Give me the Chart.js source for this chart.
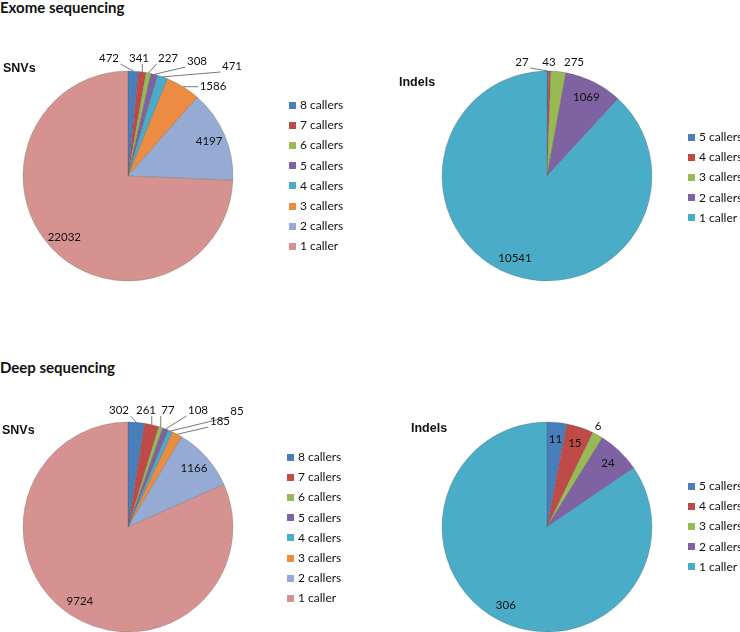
<!DOCTYPE html>
<html>
<head>
<meta charset="utf-8">
<script src="https://cdn.jsdelivr.net/npm/chart.js@4"></script>
<style>
  html, body { margin: 0; padding: 0; background: #fff; }
  body { width: 740px; height: 632px; position: relative; overflow: hidden; font-family: Lato, 'Open Sans', sans-serif; color: #111; }
  .quad { position: absolute; width: 370px; height: 316px; }
  .heading { position: absolute; font-weight: bold; font-size: 15px; white-space: nowrap; line-height: 1; }
  .subtitle { position: absolute; font-family: 'Liberation Sans', Arial, sans-serif; font-weight: bold; font-size: 12.5px; line-height: 1; }
  .legend { position: absolute; font-size: 12px; white-space: nowrap; }
  .legend-row { position: absolute; left: 0; height: 14px; line-height: 14px; }
  .legend-box { position: absolute; left: 0; top: 3.5px; width: 7px; height: 7px; }
  .legend-text { position: absolute; left: 11px; top: 0; }
</style>
</head>
<body>

<div class="heading" style="left:0px; top:0px;">Exome sequencing</div>
<div class="heading" style="left:0px; top:360px;">Deep sequencing</div>

<div class="quad" style="left:0; top:0;"><canvas id="exomeSnvChart" width="370" height="316"></canvas></div>
<div class="quad" style="left:370px; top:0;"><canvas id="exomeIndelChart" width="370" height="316"></canvas></div>
<div class="quad" style="left:0; top:316px;"><canvas id="deepSnvChart" width="370" height="316"></canvas></div>
<div class="quad" style="left:370px; top:316px;"><canvas id="deepIndelChart" width="370" height="316"></canvas></div>

<div class="subtitle" style="left:3px; top:62px;">SNVs</div>
<div class="subtitle" style="left:399px; top:76px;">Indels</div>
<div class="subtitle" style="left:2px; top:424px;">SNVs</div>
<div class="subtitle" style="left:411px; top:422px;">Indels</div>

<div class="legend" id="exomeSnvLegend"   style="left:289px; top:98px;"></div>
<div class="legend" id="exomeIndelLegend" style="left:688px; top:130px;"></div>
<div class="legend" id="deepSnvLegend"    style="left:287px; top:450px;"></div>
<div class="legend" id="deepIndelLegend"  style="left:688px; top:479px;"></div>

<script>
/* ── Data ── */
const snvLabels   = ['8 callers', '7 callers', '6 callers', '5 callers', '4 callers', '3 callers', '2 callers', '1 caller'];
const indelLabels = ['5 callers', '4 callers', '3 callers', '2 callers', '1 caller'];

const exomeSnvValues   = [472, 341, 227, 308, 471, 1586, 4197, 22032];
const exomeIndelValues = [27, 43, 275, 1069, 10541];
const deepSnvValues    = [302, 261, 77, 108, 85, 185, 1166, 9724];
const deepIndelValues  = [11, 15, 6, 24, 306];

/* ── Styles ── */
const snvColors   = ['#4A7EBB', '#BE4B48', '#98B954', '#7E62A1', '#4AACC6', '#EC8C42', '#95ABD4', '#D59290'];
const indelColors = ['#4A7EBB', '#BE4B48', '#98B954', '#7E62A1', '#4AACC6'];

// label placement: null = inside the slice, [dx, dy] = outside, relative to pie centre
const exomeSnvLabelPos   = [[-19, -118], [11, -118], [40, -118], [69, -115], [104, -110], [85, -90], null, null];
const exomeIndelLabelPos = [[-25, -114], [2, -114], [27, -114], null, null];
const deepSnvLabelPos    = [[-9, -117], [18, -117], [40, -117], [70, -117], [109, -116], [92, -106], null, null];
const deepIndelLabelPos  = [null, null, [51, -101], null, null];

const PIE_RADIUS = 105;
const LABEL_FONT = "11.5px Lato, 'Open Sans', sans-serif";

/* ── Plugin: data labels with leader lines ── */
const sliceLabels = {
  id: 'sliceLabels',
  afterDatasetsDraw(chart, args, opts) {
    const ctx  = chart.ctx;
    const meta = chart.getDatasetMeta(0);
    const values = chart.data.datasets[0].data;
    ctx.save();
    ctx.font = LABEL_FONT;
    ctx.fillStyle = '#111';
    ctx.textAlign = 'center';
    ctx.textBaseline = 'middle';
    meta.data.forEach((arc, i) => {
      const { x, y, startAngle, endAngle, outerRadius } = arc.getProps(['x', 'y', 'startAngle', 'endAngle', 'outerRadius'], true);
      const mid  = (startAngle + endAngle) / 2;
      const text = String(values[i]);
      const pos  = opts.positions[i];
      if (!pos) {
        const r = outerRadius * 0.84;
        ctx.fillText(text, x + Math.cos(mid) * r, y + Math.sin(mid) * r);
        return;
      }
      const lx = x + pos[0];
      const ly = y + pos[1];
      ctx.fillText(text, lx, ly);
      // leader line from slice edge to nearest point of the label box
      const w  = ctx.measureText(text).width / 2 + 1.5;
      const h  = 6;
      const ex = x + Math.cos(mid) * outerRadius;
      const ey = y + Math.sin(mid) * outerRadius;
      const nx = Math.min(Math.max(ex, lx - w), lx + w);
      const ny = Math.min(Math.max(ey, ly - h), ly + h);
      if (Math.hypot(ex - nx, ey - ny) < 6) return;
      ctx.strokeStyle = '#555';
      ctx.lineWidth = 0.8;
      ctx.beginPath();
      ctx.moveTo(ex, ey);
      ctx.lineTo(nx, ny);
      ctx.stroke();
    });
    ctx.restore();
  }
};

/* ── Helpers ── */
function renderLegend(elId, labels, colors) {
  const el = document.getElementById(elId);
  labels.forEach((label, i) => {
    const row = document.createElement('div');
    row.className = 'legend-row';
    row.style.top = (i * 20.2) + 'px';
    const box = document.createElement('span');
    box.className = 'legend-box';
    box.style.background = colors[i];
    const txt = document.createElement('span');
    txt.className = 'legend-text';
    txt.textContent = label;
    row.append(box, txt);
    el.appendChild(row);
  });
}

// cx, cy: pie centre inside its 370x316 canvas
function makePie(canvasId, labels, values, colors, positions, cx, cy) {
  const W = 370, H = 316;
  const dx = 2 * cx - W;
  const dy = 2 * cy - H;
  return new Chart(document.getElementById(canvasId), {
    type: 'pie',
    data: {
      labels,
      datasets: [{
        data: values,
        backgroundColor: colors,
        borderColor: 'rgba(80,80,80,0.3)',
        borderWidth: 0.8
      }]
    },
    options: {
      responsive: false,
      animation: false,
      radius: PIE_RADIUS,
      layout: {
        padding: {
          left:   dx > 0 ? dx : 0,
          right:  dx < 0 ? -dx : 0,
          top:    dy > 0 ? dy : 0,
          bottom: dy < 0 ? -dy : 0
        }
      },
      plugins: {
        legend:  { display: false },
        tooltip: { enabled: false },
        sliceLabels: { positions }
      }
    },
    plugins: [sliceLabels]
  });
}

/* ── Init ── */
makePie('exomeSnvChart',   snvLabels,   exomeSnvValues,   snvColors,   exomeSnvLabelPos,   128, 176);
makePie('exomeIndelChart', indelLabels, exomeIndelValues, indelColors, exomeIndelLabelPos, 177, 176);
makePie('deepSnvChart',    snvLabels,   deepSnvValues,    snvColors,   deepSnvLabelPos,    128, 211);
makePie('deepIndelChart',  indelLabels, deepIndelValues,  indelColors, deepIndelLabelPos,  177, 211);

renderLegend('exomeSnvLegend',   snvLabels,   snvColors);
renderLegend('exomeIndelLegend', indelLabels, indelColors);
renderLegend('deepSnvLegend',    snvLabels,   snvColors);
renderLegend('deepIndelLegend',  indelLabels, indelColors);
</script>
</body>
</html>
